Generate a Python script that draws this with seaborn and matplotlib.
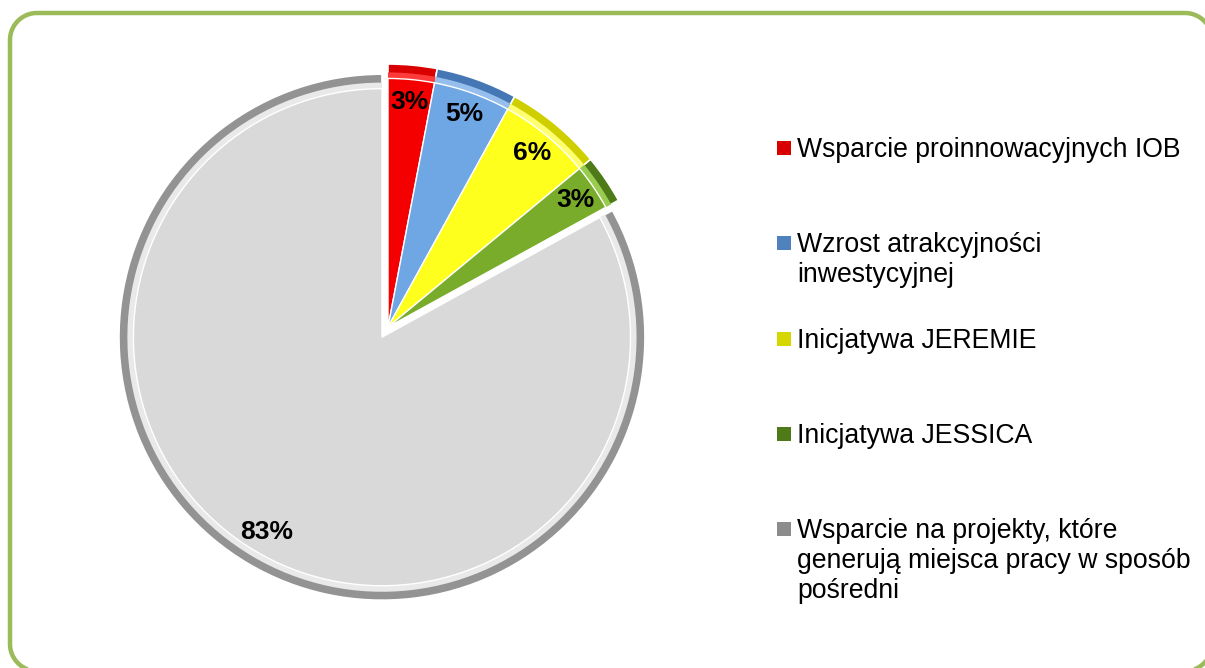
import matplotlib
matplotlib.use("Agg")
import matplotlib.pyplot as plt
from matplotlib.patches import Rectangle
import numpy as np
import seaborn as sns

# ---- data ----
categories = [
    "Wsparcie proinnowacyjnych IOB",
    "Wzrost atrakcyjności\ninwestycyjnej",
    "Inicjatywa JEREMIE",
    "Inicjatywa JESSICA",
    "Wsparcie na projekty, które\ngenerują miejsca pracy w sposób\npośredni",
]
shares = [3, 5, 6, 3, 83]

# ---- styles ----
rim_colors = ["#D80000", "#4677B5", "#CFCF00", "#4E7A18", "#939393"]
highlight_colors = ["#FF3A3A", "#96BEEC", "#FFFF70", "#98CC4E", "#E9E9E9"]
main_colors = ["#F40000", "#6FA6E4", "#FFFF1E", "#79AC2A", "#D9D9D9"]
legend_colors = ["#D80000", "#4F81BD", "#D6D600", "#4E7A18", "#8C8C8C"]
explode = [0, 0, 0, 0, 0.045]

sns.set_theme(style="white")
plt.rcParams["font.family"] = ["Liberation Sans", "DejaVu Sans"]

W, H = 1205, 668
fig = plt.figure(figsize=(W / 100, H / 100), dpi=100)
fig.patch.set_facecolor("white")

# overlay axes in pixel coordinates (y up) for border + legend
ov = fig.add_axes([0, 0, 1, 1])
ov.set_xlim(0, W)
ov.set_ylim(0, H)
ov.axis("off")
ov.patch.set_alpha(0)

# rounded border (screen coords: left 10, top 13, right 1212, bottom 671)
def rounded_rect(x0, y0, x1, y1, r, n=30):
    pts = []
    corners = [((x0 + r, y0 + r), 180, 270), ((x1 - r, y0 + r), 270, 360),
               ((x1 - r, y1 - r), 0, 90), ((x0 + r, y1 - r), 90, 180)]
    for (ccx, ccy), a0, a1 in corners:
        a = np.radians(np.linspace(a0, a1, n))
        pts.append(np.column_stack([ccx + r * np.cos(a), ccy + r * np.sin(a)]))
    pts = np.vstack(pts + [pts[0][:1]])
    return pts

bp = rounded_rect(10, 13, 1212, 671, 27)
ov.plot(bp[:, 0], H - bp[:, 1], color="#9BBB59", lw=3.2, clip_on=False,
        solid_capstyle="round")

# pie axes: centre at (388, 327) px from top-left, radius 263 px
R = 263.0
cx, cy = 388, 327
half = 300
ax = fig.add_axes([(cx - half) / W, (H - (cy + half)) / H, 2 * half / W, 2 * half / H])

wp = dict(edgecolor="white", linewidth=1.2)
ax.pie(shares, colors=rim_colors, startangle=90, counterclock=False,
       explode=explode, radius=1.0, wedgeprops=wp,
       autopct="%.0f%%", pctdistance=0.86,
       textprops=dict(fontsize=19, fontweight="bold", color="black"))
ax.pie(shares, colors=highlight_colors, startangle=90, counterclock=False,
       explode=explode, radius=0.968, wedgeprops=dict(linewidth=0))
ax.pie(shares, colors=main_colors, startangle=90, counterclock=False,
       explode=explode, radius=0.945, wedgeprops=dict(edgecolor="white", linewidth=1.0))
for t in ax.texts:
    t.set_zorder(10)
lim = half / R
ax.set_xlim(-lim, lim)
ax.set_ylim(-lim, lim)
ax.set_aspect("equal")
ax.axis("off")

# legend (manual, first-line aligned like the reference)
first_baseline = 157
entry_step = 95.3
line_step = 30
for i, (lab, col) in enumerate(zip(categories, legend_colors)):
    base = first_baseline + i * entry_step
    ov.add_patch(Rectangle((777, H - base + 2), 14, 14, facecolor=col,
                           edgecolor="none"))
    for j, line in enumerate(lab.split("\n")):
        ov.text(797, H - (base + j * line_step), line, fontsize=19.2,
                color="black", ha="left", va="baseline")

fig.savefig("out.png", dpi=100, facecolor="white")
